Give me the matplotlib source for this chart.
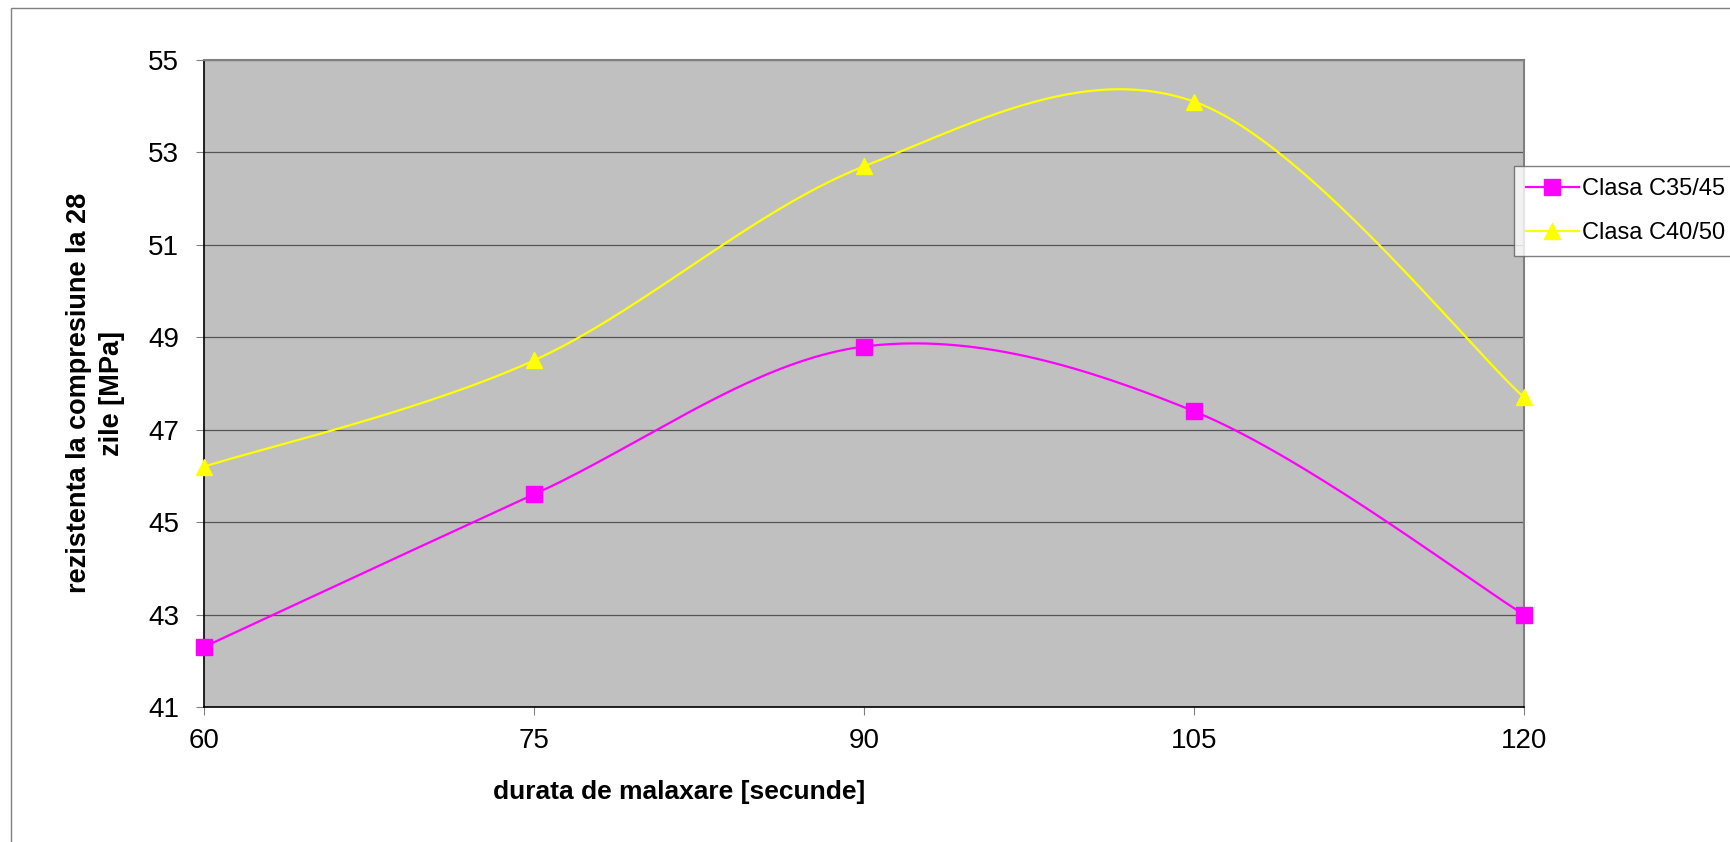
import numpy as np
import matplotlib
matplotlib.use('Agg')
import matplotlib.pyplot as plt
from matplotlib.patches import Rectangle

plt.rcParams['font.family'] = ['Liberation Sans', 'DejaVu Sans']

# Data
durata = [60, 75, 90, 105, 120]
c35_45 = [42.3, 45.6, 48.8, 47.4, 43.0]
c40_50 = [46.2, 48.5, 52.7, 54.1, 47.7]
y_ticks = [41, 43, 45, 47, 49, 51, 53, 55]


# Smoothed line the way Excel draws it (Catmull-Rom / Bezier segments)
def smooth(xs, ys, n=60):
    pts = np.column_stack([xs, ys]).astype(float)
    pad = np.vstack([pts[0], pts, pts[-1]])
    out = []
    for i in range(len(pts) - 1):
        p0, p1, p2, p3 = pad[i], pad[i + 1], pad[i + 2], pad[i + 3]
        c1 = p1 + (p2 - p0) / 6
        c2 = p2 - (p3 - p1) / 6
        t = np.linspace(0, 1, n)[:, None]
        seg = ((1 - t) ** 3 * p1 + 3 * (1 - t) ** 2 * t * c1
               + 3 * (1 - t) * t ** 2 * c2 + t ** 3 * p2)
        out.append(seg if i == 0 else seg[1:])
    out = np.vstack(out)
    return out[:, 0], out[:, 1]


W, H = 1731, 842
fig = plt.figure(figsize=(W / 100, H / 100), dpi=100)
ax = fig.add_axes([204 / W, 1 - 707 / H, 1320 / W, 647 / H])
ax.set_facecolor('#C0C0C0')

# outer chart frame (only left/top visible in the reference)
fig.patches.append(Rectangle((11 / W, -0.1), 1.2, 1 - 8 / H + 0.1,
                             transform=fig.transFigure, fill=False,
                             edgecolor='#808080', linewidth=1.0))

series = [
    ('Clasa C35/45', c35_45, '#FF00FF', 's'),
    ('Clasa C40/50', c40_50, '#FFFF00', '^'),
]
for name, vals, col, mk in series:
    sx, sy = smooth(durata, vals)
    ax.plot(sx, sy, color=col, linewidth=1.6, zorder=3)
    ax.plot(durata, vals, linestyle='none', marker=mk, markersize=11,
            color=col, markeredgecolor=col, zorder=4, clip_on=False)
    ax.plot([], [], color=col, linewidth=1.6, marker=mk, markersize=11,
            markeredgecolor=col, label=name)

ax.set_xlim(60, 120)
ax.set_ylim(41, 55)
ax.set_xticks(durata)
ax.set_yticks(y_ticks)
ax.yaxis.grid(True, color='#555555', linewidth=0.9)
ax.set_axisbelow(True)

for side in ['top', 'right']:
    ax.spines[side].set_color('#808080')
    ax.spines[side].set_linewidth(1.5)
for side in ['left', 'bottom']:
    ax.spines[side].set_color('black')
    ax.spines[side].set_linewidth(1.2)

ax.tick_params(axis='y', direction='out', length=6, width=0.8,
               color='#808080', pad=12, labelsize=20)
ax.tick_params(axis='x', direction='out', length=6, width=0.8,
               color='#808080', pad=9, labelsize=20)

ax.set_xlabel('durata de malaxare [secunde]', fontsize=19, fontweight='bold')
ax.xaxis.set_label_coords((679 - 204) / 1320, (707 - 792) / 647)
ax.xaxis.label.set_va('center')

ax.set_ylabel('rezistenta la compresiune la 28\nzile [MPa]', fontsize=19.5,
              fontweight='bold', multialignment='center', linespacing=1.35)
ax.yaxis.set_label_coords((96 - 204) / 1320, (707 - 393) / 647)
ax.yaxis.label.set_va('center')

leg = fig.legend(loc='upper left', bbox_to_anchor=(1514 / W, 1 - 166 / H),
                 fontsize=17, frameon=True, fancybox=False, borderaxespad=0,
                 handlelength=2.25, handletextpad=0.15, borderpad=0.5,
                 labelspacing=0.95)
leg.get_frame().set_edgecolor('#606060')
leg.get_frame().set_linewidth(1.0)

fig.savefig('out.png', dpi=100, facecolor='white')
